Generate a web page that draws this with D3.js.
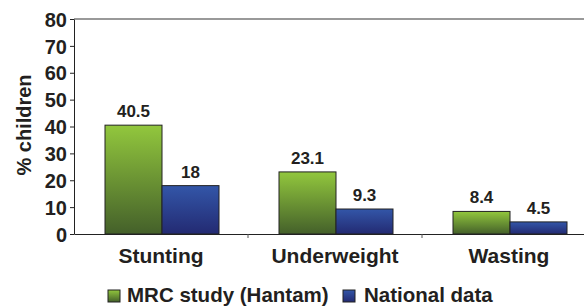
<!DOCTYPE html>
<html>
<head>
<meta charset="utf-8">
<script src="https://cdn.jsdelivr.net/npm/d3@7"></script>
<style>
  body { margin: 0; background: #fff; }
  text { font-family: "Liberation Sans", Arial, sans-serif; font-weight: bold; fill: #231f20; }
</style>
</head>
<body>
<div id="chart"></div>
<script>
const categories = ['Stunting', 'Underweight', 'Wasting'];
const seriesNames = ['MRC study (Hantam)', 'National data'];
const mrcValues = [40.5, 23.1, 8.4];
const nationalValues = [18, 9.3, 4.5];
const valueLabels = [['40.5', '18'], ['23.1', '9.3'], ['8.4', '4.5']];
const yTicks = [0, 10, 20, 30, 40, 50, 60, 70, 80];

const svg = d3.select('#chart').append('svg').attr('width', 584).attr('height', 307);
const margins = { top: 19, left: 74, bottom: 73 };
const plotW = 522, plotH = 307 - margins.top - margins.bottom;

const defs = svg.append('defs');
function grad(id, top, bottom) {
  const g = defs.append('linearGradient').attr('id', id).attr('x1', 0).attr('y1', 0).attr('x2', 0).attr('y2', 1);
  g.append('stop').attr('offset', '0%').attr('stop-color', top);
  g.append('stop').attr('offset', '100%').attr('stop-color', bottom);
}
grad('gGreen', '#92c73d', '#44602a');
grad('gBlue', '#3356a8', '#232a72');

const x = d3.scaleBand().domain(categories).range([0, plotW]);
const x1 = d3.scaleBand().domain([0, 1]).range([31, 145]);
const y = d3.scaleLinear().domain([0, 80]).range([plotH, 0]);

const g = svg.append('g').attr('transform', `translate(${margins.left},${margins.top})`);

// top border
g.append('line').attr('x1', 0).attr('x2', plotW).attr('y1', 0).attr('y2', 0)
  .attr('stroke', '#777').attr('stroke-width', 1.5);

const data = categories.map((c, i) => ({ c, vals: [mrcValues[i], nationalValues[i]], labels: valueLabels[i] }));
const groups = g.selectAll('g.cat').data(data).join('g')
  .attr('transform', d => `translate(${x(d.c)},0)`);

groups.selectAll('rect').data(d => d.vals.map((v, j) => ({ v, j }))).join('rect')
  .attr('x', d => x1(d.j))
  .attr('width', x1.bandwidth())
  .attr('y', d => y(d.v))
  .attr('height', d => y(0) - y(d.v))
  .attr('fill', d => d.j === 0 ? 'url(#gGreen)' : 'url(#gBlue)')
  .attr('stroke', '#222').attr('stroke-width', 1);

groups.selectAll('text.val').data(d => d.vals.map((v, j) => ({ v, j, l: d.labels[j] }))).join('text')
  .attr('class', 'val')
  .attr('x', d => x1(d.j) + x1.bandwidth() / 2)
  .attr('y', d => y(d.v) - 8)
  .attr('text-anchor', 'middle')
  .style('font-size', '17px')
  .text(d => d.l);

// y axis
const yAxis = g.append('g').call(d3.axisLeft(y).tickValues(yTicks).tickSize(4).tickSizeOuter(0));
yAxis.select('.domain').attr('stroke', '#222');
yAxis.selectAll('.tick line').attr('stroke', '#222');
yAxis.selectAll('.tick text').style('font-size', '20px').attr('x', -7).attr('dy', '0.36em');

// x axis
const xAxis = g.append('g').attr('transform', `translate(0,${plotH})`)
  .call(d3.axisBottom(x).tickSize(0).tickSizeOuter(0));
xAxis.select('.domain').attr('stroke', '#222');
xAxis.selectAll('.tick text').style('font-size', '21px').attr('y', 14).attr('dy', '0.71em');
xAxis.selectAll('line.sep').data(categories.slice(1)).join('line')
  .attr('class', 'sep')
  .attr('x1', d => x(d)).attr('x2', d => x(d))
  .attr('y1', 0).attr('y2', 4).attr('stroke', '#555');

svg.append('text')
  .attr('transform', `translate(31,125) rotate(-90)`)
  .attr('text-anchor', 'middle')
  .style('font-size', '20px')
  .text('% children');

// legend
const legend = svg.append('g').attr('transform', 'translate(108,302)');
const legX = [0, 235];
seriesNames.forEach((name, i) => {
  legend.append('rect').attr('x', legX[i]).attr('y', -12).attr('width', 12).attr('height', 12)
    .attr('fill', i === 0 ? 'url(#gGreen)' : 'url(#gBlue)').attr('stroke', '#222').attr('stroke-width', 1);
  legend.append('text').attr('x', legX[i] + 19 + i * 2).attr('y', 0).style('font-size', '20.5px').text(name);
});
</script>
</body>
</html>
